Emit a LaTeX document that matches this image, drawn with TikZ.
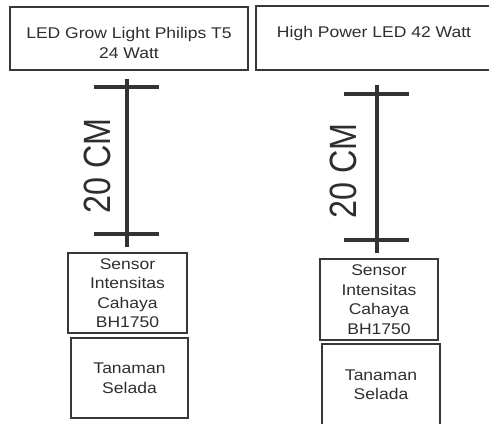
\documentclass[tikz,border=0pt]{standalone}
\usepackage{fontspec}
\setmainfont{Liberation Sans}
\newfontfamily\boxfont[FakeStretch=1.13]{Liberation Sans}
\newfontfamily\cmfont[FakeStretch=0.85]{Liberation Sans}
\begin{document}
\begin{tikzpicture}[x=1pt, y=-1pt,
  box/.style={draw=black!78, line width=2pt, inner sep=0pt, align=center,
    text=black!82, font={\boxfont\fontsize{15.5}{19.5}\selectfont}},
  txt/.style={inner sep=0pt, align=center, text=black!82,
    font={\boxfont\fontsize{15.5}{19.5}\selectfont}},
  bar/.style={draw=black!80, line width=4.5pt},
  len/.style={rotate=90, text=black!82, font={\cmfont\fontsize{38}{40}\selectfont}}]
\useasboundingbox (0,0) rectangle (489,423);
\node[box, minimum width=238pt, minimum height=63pt] (lamp1) at (129,38.5) {};
\node[txt] (lamp1txt) at ([yshift=-4.5pt]lamp1.center) {LED Grow Light Philips T5\\24 Watt};
\node[box, minimum width=236pt, minimum height=64pt] (lamp2) at (374,38) {};
\node[txt] (lamp2txt) at ([yshift=5pt]lamp2.center) {High Power LED 42 Watt};
\foreach \x/\t/\b/\ta/\tb in {127/79/247/87/234, 377/85/253/94/240} {
  \draw[bar] (\x,\t) -- (\x,\b);
  \draw[bar] (\x-33,\ta) -- (\x+32,\ta);
  \draw[bar] (\x-33,\tb) -- (\x+32,\tb);
}
\node[len] (cm1) at (97,166) {20 CM};
\node[len] (cm2) at (343,171) {20 CM};
\node[box, minimum width=119pt, minimum height=80pt] (sensor1) at (127.5,293) {Sensor\\Intensitas\\Cahaya\\BH1750};
\node[box, minimum width=117pt, minimum height=80pt] (plant1) at (129.5,378) {Tanaman\\Selada};
\node[box, minimum width=118pt, minimum height=81pt] (sensor2) at (379,299.5) {Sensor\\Intensitas\\Cahaya\\BH1750};
\node[box, minimum width=118pt, minimum height=81pt] (plant2) at (381,384.5) {Tanaman\\Selada};
\end{tikzpicture}
\end{document}
